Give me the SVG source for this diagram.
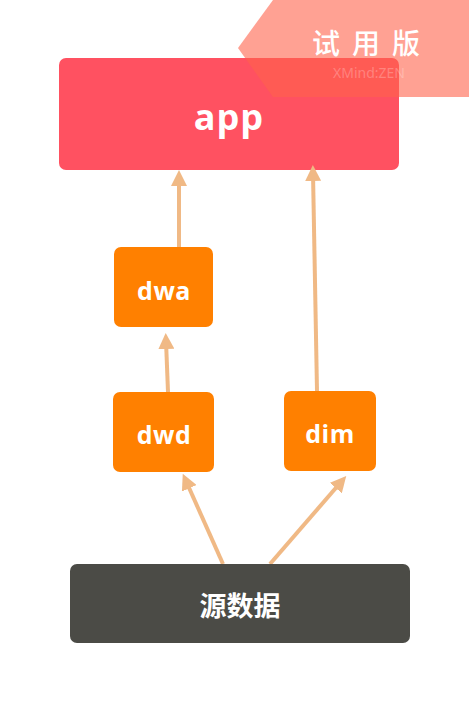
<svg xmlns="http://www.w3.org/2000/svg" width="469" height="703" viewBox="0 0 469 703">
<defs>
<style>
.lbl{font-family:"Open Sans","Noto Sans CJK SC",sans-serif;font-weight:bold;fill:#fff;text-anchor:middle;dominant-baseline:central}
.cjk{font-family:"Noto Sans CJK SC",sans-serif;font-weight:bold;fill:#fff;text-anchor:middle;dominant-baseline:central}
.edge{stroke:#F0B985;stroke-width:4;fill:none;marker-end:url(#ah)}
.sub{fill:#FF8000}
</style>
<marker id="ah" viewBox="0 0 10 10" refX="5" refY="5" markerWidth="4" markerHeight="4" orient="auto" markerUnits="strokeWidth">
<path d="M0,0 L10,5 L0,10 z" fill="#F0B985"/>
</marker>
</defs>
<rect width="469" height="703" fill="#fff"/>
<g id="app">
<rect x="59" y="58" width="340" height="112" rx="7" fill="#FF5161"/>
<text class="lbl" x="229" y="116" font-size="36" letter-spacing="1">app</text>
</g>
<g id="edges">
<line class="edge" x1="179" y1="247" x2="179" y2="178"/>
<line class="edge" x1="317" y1="391" x2="313" y2="173"/>
<line class="edge" x1="168" y1="392" x2="166" y2="341"/>
<line class="edge" x1="223" y1="564" x2="186" y2="481"/>
<line class="edge" x1="270" y1="564" x2="341" y2="482"/>
</g>
<g id="dwa">
<rect class="sub" x="114" y="247" width="99" height="80" rx="7"/>
<text class="lbl" x="164" y="290" font-size="25" letter-spacing="0.5">dwa</text>
</g>
<g id="dwd">
<rect class="sub" x="113" y="392" width="101" height="80" rx="7"/>
<text class="lbl" x="164" y="434" font-size="25" letter-spacing="0.5">dwd</text>
</g>
<g id="dim">
<rect class="sub" x="284" y="391" width="92" height="80" rx="7"/>
<text class="lbl" x="330" y="433" font-size="25" letter-spacing="0.5">dim</text>
</g>
<g id="src">
<rect x="70" y="564" width="340" height="79" rx="7" fill="#4B4B46"/>
<text class="cjk" x="240" y="604" font-size="27">源数据</text>
</g>
<g id="watermark">
<polygon points="273,0 469,0 469,97 273,97 238,48" fill="#FF624B" fill-opacity="0.6"/>
<text x="372" y="42" font-family="'Noto Sans CJK SC',sans-serif" font-weight="500" font-size="28" fill="#fff" text-anchor="middle" dominant-baseline="central" letter-spacing="12">试用版</text>
<text x="369" y="72" font-family="'Noto Sans',sans-serif" font-size="14" fill="#fff" fill-opacity="0.25" text-anchor="middle" dominant-baseline="central">XMind:ZEN</text>
</g>
</svg>
